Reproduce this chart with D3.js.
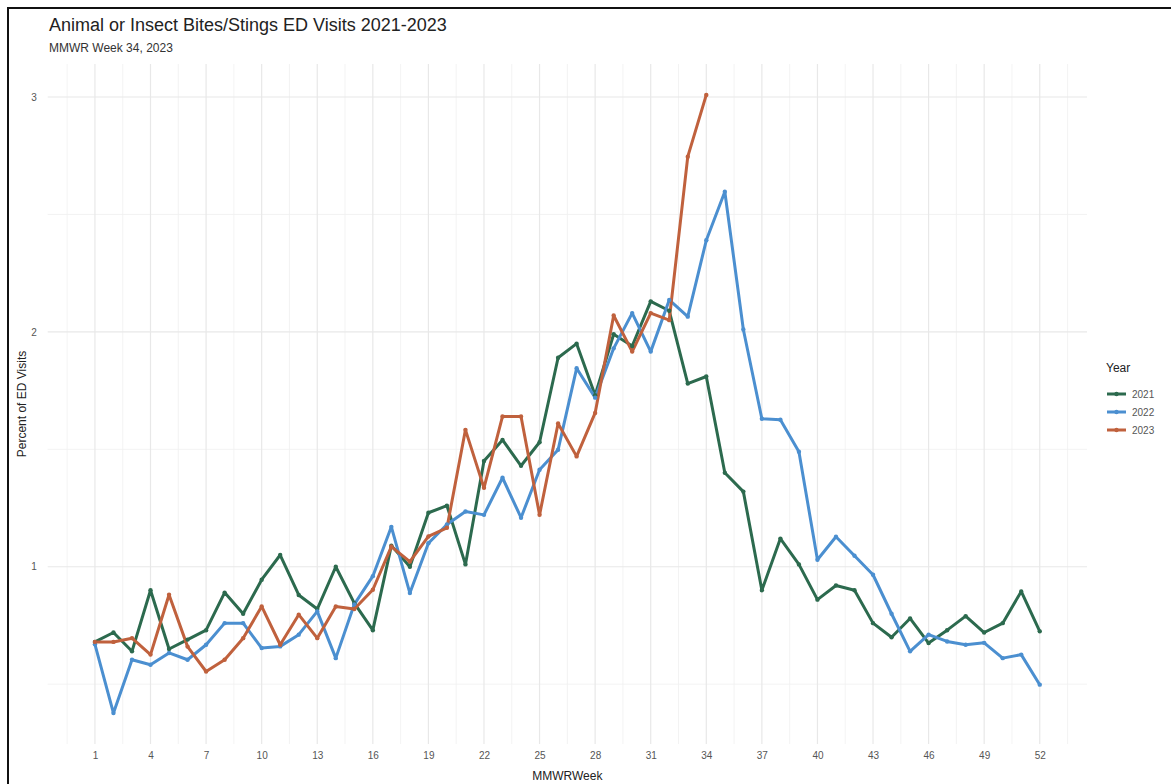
<!DOCTYPE html>
<html>
<head>
<meta charset="utf-8">
<script src="https://cdn.jsdelivr.net/npm/d3@7"></script>
<style>
  body { margin: 0; background: #fff; }
  svg { display: block; font-family: "Liberation Sans", Arial, sans-serif; }
</style>
</head>
<body>
<svg id="chart" width="1171" height="784"></svg>
<script>
// weeks and tick labels
const weeks = [1,2,3,4,5,6,7,8,9,10,11,12,13,14,15,16,17,18,19,20,21,22,23,24,25,26,
  27,28,29,30,31,32,33,34,35,36,37,38,39,40,41,42,43,44,45,46,47,48,49,50,51,52];
const xTicks = [1,4,7,10,13,16,19,22,25,28,31,34,37,40,43,46,49,52];
const yTicks = [1,2,3];
const years = ["2021","2022","2023"];

// percent of ED visits
const v2021 = [0.68,0.72,0.64,0.90,0.65,0.69,0.73,0.89,0.80,0.945,1.05,0.88,0.82,1.00,0.845,0.73,
  1.09,1.00,1.23,1.26,1.01,1.45,1.54,1.43,1.53,1.89,1.95,1.73,1.99,1.94,2.13,2.09,1.78,1.81,
  1.40,1.32,0.90,1.12,1.01,0.86,0.92,0.90,0.76,0.70,0.78,0.675,0.73,0.79,0.72,0.76,0.895,0.725];
const v2022 = [0.67,0.377,0.604,0.583,0.633,0.604,0.668,0.76,0.76,0.654,0.661,0.711,0.81,0.611,0.84,0.96,
  1.17,0.888,1.10,1.18,1.235,1.221,1.379,1.209,1.413,1.498,1.845,1.72,1.93,2.08,1.916,2.136,2.065,2.39,
  2.597,2.01,1.63,1.626,1.49,1.03,1.128,1.047,0.966,0.80,0.64,0.711,0.682,0.668,0.676,0.611,0.626,0.498];
const v2023 = [0.68,0.68,0.696,0.626,0.881,0.66,0.554,0.604,0.696,0.831,0.668,0.796,0.696,0.831,0.82,0.902,
  1.086,1.022,1.129,1.166,1.583,1.336,1.64,1.64,1.221,1.61,1.47,1.655,2.07,1.916,2.08,2.05,2.746,3.009];

const colors = {"2021": "#2c6a4e", "2022": "#4b8fd0", "2023": "#c0613d"};

const width = 1171, height = 784,
    margins = {top: 64, bottom: 40, left: 47.7, right: 84};

const series = years.map((yr, i) => {
    const vals = [v2021, v2022, v2023][i];
    return {year: yr, values: vals.map((v, j) => ({week: weeks[j], value: v}))};
});

const svg = d3.select("#chart");

// ggplot-style 5% expansion
const xExt = d3.extent(weeks), xPad = (xExt[1] - xExt[0]) * 0.05;
const allVals = v2021.concat(v2022, v2023);
const yExt = d3.extent(allVals), yPad = (yExt[1] - yExt[0]) * 0.05;

const x = d3.scaleLinear()
    .domain([xExt[0] - xPad, xExt[1] + xPad])
    .range([margins.left, width - margins.right]);
const y = d3.scaleLinear()
    .domain([yExt[0] - yPad, yExt[1] + yPad])
    .range([height - margins.bottom, margins.top]);

const [py1, py0] = y.range();
const [px0, px1] = x.range();

// grid
const grid = svg.append("g").attr("id", "grid");
const xMinor = [xTicks[0] - 1.5].concat(xTicks.map(t => t + 1.5)).filter(t => t > x.domain()[0] && t < x.domain()[1]);
const yMinor = [yTicks[0] - 0.5].concat(yTicks.map(t => t + 0.5)).filter(t => t > y.domain()[0] && t < y.domain()[1]);

grid.selectAll(".vminor").data(xMinor).enter().append("line")
    .attr("x1", d => x(d)).attr("x2", d => x(d))
    .attr("y1", py0).attr("y2", py1)
    .attr("stroke", "#f0f0f0").attr("stroke-width", 0.8);
grid.selectAll(".hminor").data(yMinor).enter().append("line")
    .attr("y1", d => y(d)).attr("y2", d => y(d))
    .attr("x1", px0).attr("x2", px1)
    .attr("stroke", "#f0f0f0").attr("stroke-width", 0.8);
grid.selectAll(".vmajor").data(xTicks).enter().append("line")
    .attr("x1", d => x(d)).attr("x2", d => x(d))
    .attr("y1", py0).attr("y2", py1)
    .attr("stroke", "#e8e8e8").attr("stroke-width", 1.2);
grid.selectAll(".hmajor").data(yTicks).enter().append("line")
    .attr("y1", d => y(d)).attr("y2", d => y(d))
    .attr("x1", px0).attr("x2", px1)
    .attr("stroke", "#e8e8e8").attr("stroke-width", 1.2);

// axes (text only, theme_minimal)
const xAxis = svg.append("g")
    .attr("transform", `translate(0,${py1})`)
    .call(d3.axisBottom(x).tickValues(xTicks).tickSize(0).tickPadding(8));
const yAxis = svg.append("g")
    .attr("transform", `translate(${px0},0)`)
    .call(d3.axisLeft(y).tickValues(yTicks).tickFormat(d3.format("d")).tickSize(0).tickPadding(11));
[xAxis, yAxis].forEach(a => {
    a.select(".domain").remove();
    a.selectAll("text").attr("fill", "#555").style("font-size", "10px")
        .style("font-family", "Liberation Sans, Arial, sans-serif");
});

// lines
const line = d3.line().x(d => x(d.week)).y(d => y(d.value));
const lines = svg.append("g").attr("id", "series");
lines.selectAll("path").data(series).enter().append("path")
    .attr("d", d => line(d.values))
    .attr("fill", "none")
    .attr("stroke", d => colors[d.year])
    .attr("stroke-width", 3)
    .attr("stroke-linejoin", "round");
series.forEach(s => {
    lines.append("g").selectAll("circle").data(s.values).enter().append("circle")
        .attr("cx", d => x(d.week)).attr("cy", d => y(d.value))
        .attr("r", 2.2).attr("fill", colors[s.year]);
});

// titles
svg.append("text").attr("x", 49).attr("y", 31)
    .style("font-size", "18px").attr("fill", "#222")
    .text("Animal or Insect Bites/Stings ED Visits 2021-2023");
svg.append("text").attr("x", 49).attr("y", 52)
    .style("font-size", "12px").attr("fill", "#333")
    .text("MMWR Week 34, 2023");
svg.append("text")
    .attr("x", (px0 + px1) / 2).attr("y", 780)
    .attr("text-anchor", "middle").style("font-size", "12px").attr("fill", "#222")
    .text("MMWRWeek");
svg.append("text")
    .attr("transform", `translate(26,${(py0 + py1) / 2}) rotate(-90)`)
    .attr("text-anchor", "middle").style("font-size", "12px").attr("fill", "#222")
    .text("Percent of ED Visits");

// legend
const lg = svg.append("g").attr("transform", `translate(${px1 + 19},0)`);
lg.append("text").attr("x", 0).attr("y", 372).style("font-size", "12px").attr("fill", "#222").text("Year");
years.forEach((yr, i) => {
    const cy = 394 + i * 18;
    lg.append("line").attr("x1", 1).attr("x2", 20).attr("y1", cy).attr("y2", cy)
        .attr("stroke", colors[yr]).attr("stroke-width", 3);
    lg.append("circle").attr("cx", 10.5).attr("cy", cy).attr("r", 2.2).attr("fill", colors[yr]);
    lg.append("text").attr("x", 26).attr("y", cy + 3.5).style("font-size", "10px").attr("fill", "#555").text(yr);
});

// frame of the original screenshot
svg.append("line").attr("x1", 7).attr("x2", width).attr("y1", 8).attr("y2", 8)
    .attr("stroke", "#111").attr("stroke-width", 2);
svg.append("line").attr("x1", 8).attr("x2", 8).attr("y1", 7).attr("y2", height)
    .attr("stroke", "#111").attr("stroke-width", 2);
</script>
</body>
</html>
